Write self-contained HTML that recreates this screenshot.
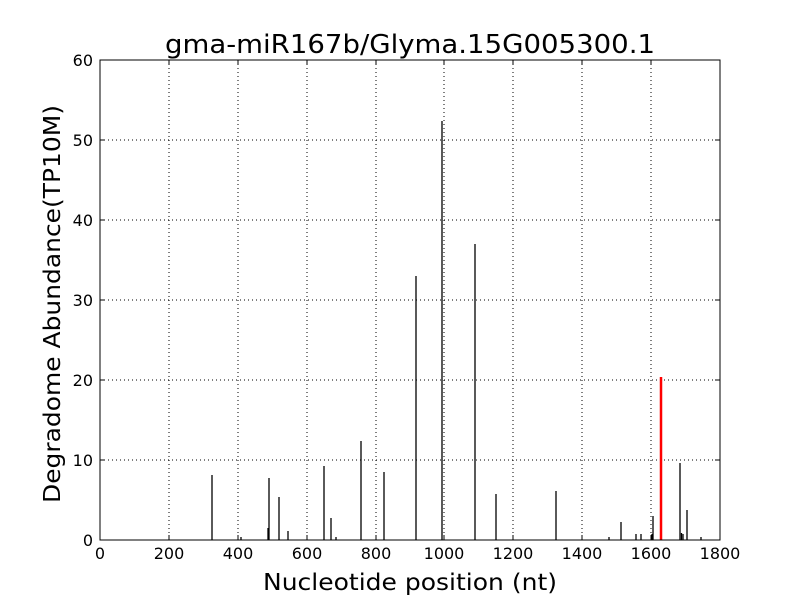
<!DOCTYPE html>
<html><head><meta charset="utf-8"><style>body{margin:0;background:#fff}svg{display:block}</style></head><body>
<svg width="800" height="600" xmlns="http://www.w3.org/2000/svg" font-family="DejaVu Sans, Liberation Sans, sans-serif">
<rect width="800" height="600" fill="#fff"/>
<g stroke="#000" stroke-width="1" stroke-dasharray="1,3">
<line x1="169" y1="60" x2="169" y2="540"/><line x1="238" y1="60" x2="238" y2="540"/><line x1="307" y1="60" x2="307" y2="540"/><line x1="376" y1="60" x2="376" y2="540"/><line x1="444" y1="60" x2="444" y2="540"/><line x1="513" y1="60" x2="513" y2="540"/><line x1="582" y1="60" x2="582" y2="540"/><line x1="651" y1="60" x2="651" y2="540"/>
<line x1="100" y1="140" x2="720" y2="140"/><line x1="100" y1="220" x2="720" y2="220"/><line x1="100" y1="300" x2="720" y2="300"/><line x1="100" y1="380" x2="720" y2="380"/><line x1="100" y1="460" x2="720" y2="460"/>
</g>
<g stroke="#000" stroke-width="1.3">
<line x1="212" y1="540" x2="212" y2="475"/>
<line x1="241" y1="540" x2="241" y2="537"/>
<line x1="268" y1="540" x2="268" y2="528"/>
<line x1="269" y1="540" x2="269" y2="478"/>
<line x1="279" y1="540" x2="279" y2="497"/>
<line x1="288" y1="540" x2="288" y2="531"/>
<line x1="324" y1="540" x2="324" y2="466"/>
<line x1="331" y1="540" x2="331" y2="518"/>
<line x1="336" y1="540" x2="336" y2="537"/>
<line x1="361" y1="540" x2="361" y2="441"/>
<line x1="384" y1="540" x2="384" y2="472"/>
<line x1="416" y1="540" x2="416" y2="276"/>
<line x1="442" y1="540" x2="442" y2="121"/>
<line x1="475" y1="540" x2="475" y2="244"/>
<line x1="496" y1="540" x2="496" y2="494"/>
<line x1="556" y1="540" x2="556" y2="491"/>
<line x1="609" y1="540" x2="609" y2="537"/>
<line x1="621" y1="540" x2="621" y2="522"/>
<line x1="636" y1="540" x2="636" y2="534"/>
<line x1="641" y1="540" x2="641" y2="534"/>
<line x1="652" y1="540" x2="652" y2="534"/>
<line x1="653" y1="540" x2="653" y2="516"/>
<line x1="680" y1="540" x2="680" y2="463"/>
<line x1="681.5" y1="540" x2="681.5" y2="533"/>
<line x1="683" y1="540" x2="683" y2="534"/>
<line x1="687" y1="540" x2="687" y2="510"/>
<line x1="701" y1="540" x2="701" y2="537"/>
</g>
<line x1="661" y1="540" x2="661" y2="377" stroke="#f00" stroke-width="2.5"/>
<rect x="100" y="60" width="620" height="480" fill="none" stroke="#000" stroke-width="1"/>
<g stroke="#000">
<line x1="100" y1="540" x2="100" y2="535"/><line x1="169" y1="540" x2="169" y2="535"/><line x1="238" y1="540" x2="238" y2="535"/><line x1="307" y1="540" x2="307" y2="535"/><line x1="376" y1="540" x2="376" y2="535"/><line x1="444" y1="540" x2="444" y2="535"/><line x1="513" y1="540" x2="513" y2="535"/><line x1="582" y1="540" x2="582" y2="535"/><line x1="651" y1="540" x2="651" y2="535"/>
<line x1="169" y1="60" x2="169" y2="65"/><line x1="238" y1="60" x2="238" y2="65"/><line x1="307" y1="60" x2="307" y2="65"/><line x1="376" y1="60" x2="376" y2="65"/><line x1="444" y1="60" x2="444" y2="65"/><line x1="513" y1="60" x2="513" y2="65"/><line x1="582" y1="60" x2="582" y2="65"/><line x1="651" y1="60" x2="651" y2="65"/>
<line x1="100" y1="140" x2="105" y2="140"/><line x1="100" y1="220" x2="105" y2="220"/><line x1="100" y1="300" x2="105" y2="300"/><line x1="100" y1="380" x2="105" y2="380"/><line x1="100" y1="460" x2="105" y2="460"/>
<line x1="720" y1="140" x2="715" y2="140"/><line x1="720" y1="220" x2="715" y2="220"/><line x1="720" y1="300" x2="715" y2="300"/><line x1="720" y1="380" x2="715" y2="380"/><line x1="720" y1="460" x2="715" y2="460"/>
</g>
<g font-size="16" text-anchor="middle">
<text x="100" y="559">0</text><text x="169" y="559">200</text><text x="238" y="559">400</text><text x="307" y="559">600</text><text x="376" y="559">800</text><text x="444" y="559">1000</text><text x="513" y="559">1200</text><text x="582" y="559">1400</text><text x="651" y="559">1600</text><text x="720" y="559">1800</text>
</g>
<g font-size="16" text-anchor="end">
<text x="93" y="546">0</text><text x="93" y="466">10</text><text x="93" y="386">20</text><text x="93" y="306">30</text><text x="93" y="226">40</text><text x="93" y="146">50</text><text x="93" y="66">60</text>
</g>
<text x="165" y="53" font-size="26" textLength="490" lengthAdjust="spacingAndGlyphs">gma-miR167b/Glyma.15G005300.1</text>
<text x="263" y="590" font-size="23" textLength="294" lengthAdjust="spacingAndGlyphs">Nucleotide position (nt)</text>
<text transform="translate(60,503) rotate(-90)" font-size="23" textLength="398" lengthAdjust="spacingAndGlyphs">Degradome Abundance(TP10M)</text>
</svg>
</body></html>
